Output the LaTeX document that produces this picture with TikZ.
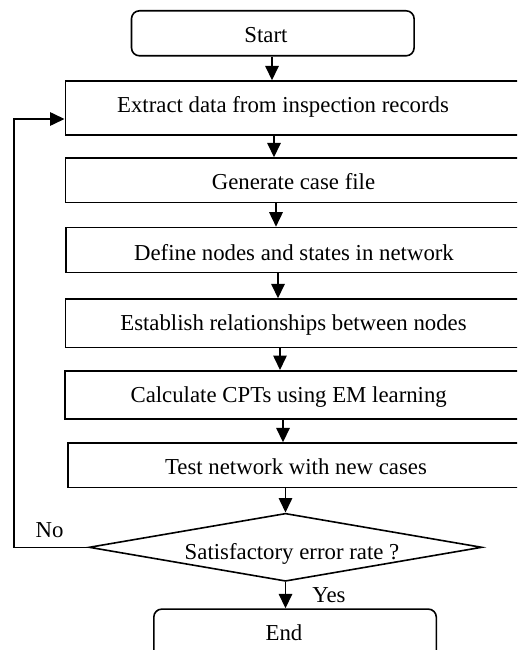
\documentclass[tikz,border=0pt]{standalone}
\usepackage{fontspec}
\setmainfont{Liberation Serif}
\usetikzlibrary{arrows.meta,shapes.geometric}

\begin{document}
\begin{tikzpicture}[x=1pt,y=-1pt,
  line width=1.6pt,
  arr/.style={-{Triangle[length=14.5pt,width=13.5pt]}, line width=1.6pt},
  stepbox/.style={draw, anchor=north west, inner sep=0pt, minimum width=#1},
  stepbox/.default=500pt,
  term/.style={draw, rounded corners=8pt, anchor=north west, inner sep=0pt},
  lbl/.style={font=\fontsize{22.8}{27}\selectfont, inner sep=0pt, anchor=base},
]
\useasboundingbox (0,0) rectangle (517,650);
\clip (0,0) rectangle (517,650);

% terminals
\node[term, minimum width=282.6pt, minimum height=45pt] (start) at (130.7,10) {};
\node[lbl] (startT) at (266,42.5) {Start};

\node[term, minimum width=282.5pt, minimum height=55pt] (end) at (153,608.3) {};
\node[lbl] (endT) at (284,640.7) {End};

% process steps (right side runs off the page)
\node[stepbox, minimum height=54pt]   (b1) at (64.5,80.3)  {};
\node[stepbox, minimum height=44.4pt] (b2) at (64.7,157.3) {};
\node[stepbox, minimum height=45pt]   (b3) at (65,226.7)   {};
\node[stepbox, minimum height=48.4pt] (b4) at (64.7,298.3) {};
\node[stepbox, minimum height=48.3pt] (b5) at (64,370)     {};
\node[stepbox, minimum height=44.5pt] (b6) at (67,442.3)   {};

\node[lbl] (t1) at (283,112.3)   {Extract data from inspection records};
\node[lbl] (t2) at (293.5,189.3) {Generate case file};
\node[lbl] (t3) at (294,260)     {Define nodes and states in network};
\node[lbl] (t4) at (293.5,330.7) {Establish relationships between nodes};
\node[lbl] (t5) at (288.7,402.3) {Calculate CPTs using EM learning};
\node[lbl] (t6) at (296,474)     {Test network with new cases};

% decision
\node[diamond, draw, inner sep=0pt, minimum width=393pt, minimum height=68pt]
  (dec) at (285.5,547.3) {};
\node[lbl] (decT) at (292,559) {Satisfactory error rate ?};

% flow arrows
\draw[arr] (272,0 |- start.south) -- (272,0 |- b1.north);
\draw[arr] (274,0 |- b1.south) -- (274,0 |- b2.north);
\draw[arr] (276,0 |- b2.south) -- (276,0 |- b3.north);
\draw[arr] (278,0 |- b3.south) -- (278,0 |- b4.north);
\draw[arr] (280,0 |- b4.south) -- (280,0 |- b5.north);
\draw[arr] (283,0 |- b5.south) -- (283,0 |- b6.north);
\draw[arr] (285.5,0 |- b6.south) -- (dec.north);
\draw[arr] (dec.south) -- (dec.south |- end.north);

% feedback loop
\coordinate (fb) at (14,119);
\draw[arr] (dec.west) -| (fb) -- (fb -| b1.west);

% branch labels
\node[lbl] (no)  at (49.5,537.3) {No};
\node[lbl] (yes) at (329,602.7)  {Yes};
\end{tikzpicture}
\end{document}
